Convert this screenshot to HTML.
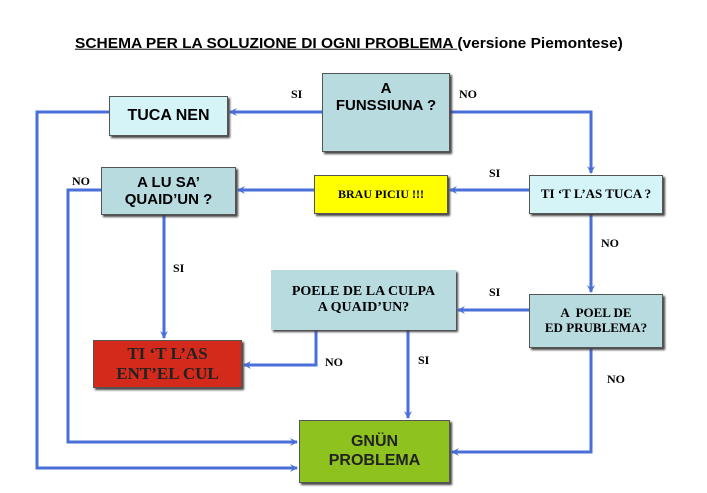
<!DOCTYPE html>
<html><head><meta charset="utf-8"><style>
body{margin:0;width:707px;height:493px;background:#fff;overflow:hidden;position:relative;font-family:"Liberation Sans",sans-serif}
.b{position:absolute;box-sizing:border-box;border:1px solid #555;box-shadow:2px 2px 2px #444;display:flex;align-items:center;justify-content:center;text-align:center;font-weight:bold;line-height:1.15}
.s{font-family:"Liberation Serif",serif}
.l{position:absolute;font-family:"Liberation Serif",serif;font-weight:bold;font-size:12px}
</style></head><body>
<div style="position:absolute;left:75px;top:35px;font-size:15.5px;font-weight:bold;white-space:nowrap;transform:scaleY(0.95)"><u>SCHEMA PER LA SOLUZIONE DI OGNI PROBLEMA </u>(versione Piemontese)</div>
<svg width="707" height="493" style="position:absolute;left:0;top:0">
<defs><marker id="a" markerWidth="8" markerHeight="8" refX="7" refY="4" orient="auto" markerUnits="userSpaceOnUse"><path d="M0,0 L8,4 L0,8 L3,4z" fill="#4a6fd8"/></marker></defs>
<g stroke="#4a6fd8" stroke-width="3" fill="none">
<path d="M322,112 L230,112" marker-end="url(#a)"/>
<path d="M109,112 L37,112 L37,468 L297,468" marker-end="url(#a)"/>
<path d="M450,112 L591,112 L591,173" marker-end="url(#a)"/>
<path d="M529,190 L450,190" marker-end="url(#a)"/>
<path d="M314,190 L238,190" marker-end="url(#a)"/>
<path d="M101,190 L68,190 L68,442 L297,442" marker-end="url(#a)"/>
<path d="M164,215 L164,338" marker-end="url(#a)"/>
<path d="M591,214 L591,292" marker-end="url(#a)"/>
<path d="M529,310 L458,310" marker-end="url(#a)"/>
<path d="M316,330 L316,365 L244,365" marker-end="url(#a)"/>
<path d="M408,330 L408,418" marker-end="url(#a)"/>
<path d="M591,348 L591,452 L452,452" marker-end="url(#a)"/>
</g></svg>
<div class="b" style="left:322px;top:73px;width:128px;height:79px;background:#b8dbe0;font-size:15px;align-items:flex-start;padding-top:6px">A<br>FUNSSIUNA ?</div>
<div class="b" style="left:109px;top:96px;width:119px;height:40px;background:#d4f4f8;font-size:16px">TUCA NEN</div>
<div class="b s" style="left:529px;top:175px;width:134px;height:39px;background:#d4f4f8;font-size:13px">TI ‘T L’AS TUCA ?</div>
<div class="b s" style="left:314px;top:175px;width:134px;height:39px;background:#ffff00;font-size:12px">BRAU PICIU !!!</div>
<div class="b" style="left:101px;top:167px;width:135px;height:48px;background:#b8dbe0;font-size:15px">A LU SA’<br>QUAID’UN ?</div>
<div class="b s" style="left:93px;top:340px;width:149px;height:48px;background:#d42a1c;font-size:17px;color:#222">TI ‘T L’AS<br>ENT’EL CUL</div>
<div class="b s" style="left:529px;top:294px;width:134px;height:54px;background:#b8dbe0;font-size:13px">A &nbsp;POEL DE<br>ED PRUBLEMA?</div>
<div class="b s" style="left:271px;top:270px;width:185px;height:60px;background:#b8dbe0;font-size:14px;border:none">POELE DE LA CULPA<br>A QUAID’UN?</div>
<div class="b" style="left:299px;top:420px;width:151px;height:63px;background:#8dc21f;font-size:16px;color:#222">GNÜN<br>PROBLEMA</div>
<div class="l" style="left:291px;top:87px">SI</div>
<div class="l" style="left:459px;top:87px">NO</div>
<div class="l" style="left:489px;top:166px">SI</div>
<div class="l" style="left:72px;top:174px">NO</div>
<div class="l" style="left:173px;top:261px">SI</div>
<div class="l" style="left:601px;top:236px">NO</div>
<div class="l" style="left:489px;top:285px">SI</div>
<div class="l" style="left:325px;top:355px">NO</div>
<div class="l" style="left:418px;top:353px">SI</div>
<div class="l" style="left:607px;top:372px">NO</div>
</body></html>
